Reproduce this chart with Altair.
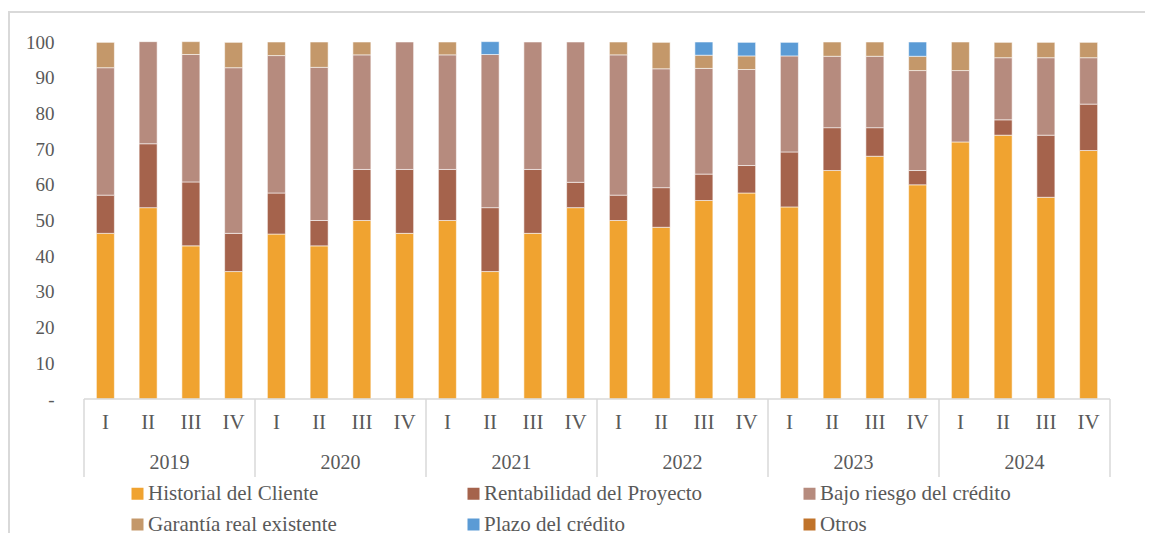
import altair as alt
import pandas as pd

years = ["2019", "2020", "2021", "2022", "2023", "2024"]
quarters = ["I", "II", "III", "IV"]
series = ["Historial del Cliente", "Rentabilidad del Proyecto", "Bajo riesgo del crédito",
          "Garantía real existente", "Plazo del crédito", "Otros"]
colors = ["#F0A330", "#A5634C", "#B68B7E", "#C4986A", "#5B9BD5", "#C0732A"]

historial = [46.4, 53.6, 42.9, 35.7, 46.2, 42.9, 50.0, 46.4, 50.0, 35.7, 46.4, 53.6,
             50.0, 48.1, 55.6, 57.7, 53.8, 64.0, 68.0, 60.0, 72.0, 73.9, 56.5, 69.6]
rentabilidad = [10.7, 17.9, 17.9, 10.7, 11.5, 7.1, 14.3, 17.9, 14.3, 17.9, 17.9, 7.1,
                7.1, 11.1, 7.4, 7.7, 15.4, 12.0, 8.0, 4.0, 0.0, 4.3, 17.4, 13.0]
bajo_riesgo = [35.7, 28.6, 35.7, 46.4, 38.5, 42.9, 32.1, 35.7, 32.1, 42.9, 35.7, 39.3,
               39.3, 33.3, 29.6, 26.9, 26.9, 20.0, 20.0, 28.0, 20.0, 17.4, 21.7, 13.0]
garantia = [7.1, 0.0, 3.6, 7.1, 3.8, 7.1, 3.6, 0.0, 3.6, 0.0, 0.0, 0.0,
            3.6, 7.4, 3.7, 3.8, 0.0, 4.0, 4.0, 4.0, 8.0, 4.3, 4.3, 4.3]
plazo = [0.0, 0.0, 0.0, 0.0, 0.0, 0.0, 0.0, 0.0, 0.0, 3.6, 0.0, 0.0,
         0.0, 0.0, 3.7, 3.8, 3.8, 0.0, 0.0, 4.0, 0.0, 0.0, 0.0, 0.0]
otros = [0.0] * 24

y_ticks = [0, 10, 20, 30, 40, 50, 60, 70, 80, 90, 100]

FONT = "Liberation Serif"
TXT = "#595959"
GRID = "#d9d9d9"
W, H = 1036, 357

values = [historial, rentabilidad, bajo_riesgo, garantia, plazo, otros]
rows = []
for k, (name, vals) in enumerate(zip(series, values)):
    for i, v in enumerate(vals):
        if v > 0:
            rows.append({"pos": i + 0.5, "serie": name, "k": k, "valor": v,
                         "periodo": f"{quarters[i % 4]} {years[i // 4]}"})
df = pd.DataFrame(rows)

xscale = alt.Scale(domain=[0, 24], nice=False, zero=False)

bars = alt.Chart(df).mark_bar(size=18, stroke="white", strokeWidth=1, strokeOpacity=0.55).encode(
    x=alt.X("pos:Q", scale=xscale, axis=None),
    y=alt.Y("valor:Q", stack="zero", scale=alt.Scale(domain=[0, 100], nice=False),
            axis=alt.Axis(values=y_ticks, grid=False, domain=False, ticks=False,
                          labelFont=FONT, labelFontSize=19, labelColor=TXT, labelPadding=25,
                          labelExpr="datum.value == 0 ? '-' : datum.label", title=None)),
    color=alt.Color("serie:N", scale=alt.Scale(domain=series, range=colors),
                    legend=alt.Legend(orient="none", legendX=48, legendY=441, columns=3,
                                      direction="horizontal",
                                      gridAlign="all", columnPadding=96, rowPadding=9,
                                      symbolType="square", symbolSize=144, symbolStrokeWidth=0,
                                      symbolOpacity=1, labelFont=FONT, labelFontSize=21,
                                      labelColor=TXT, labelOffset=0, title=None, labelLimit=400)),
    order=alt.Order("k:Q", sort="ascending"),
    tooltip=["periodo:N", "serie:N", "valor:Q"],
)

qdf = pd.DataFrame({"pos": [i + 0.5 for i in range(24)],
                    "q": [quarters[i % 4] for i in range(24)]})
qlabels = alt.Chart(qdf).mark_text(font=FONT, fontSize=21, color=TXT, baseline="middle").encode(
    x=alt.X("pos:Q", scale=xscale, axis=None), y=alt.value(H + 24), text="q:N")

ydf = pd.DataFrame({"pos": [4 * j + 2 for j in range(len(years))], "year": years})
ylabels = alt.Chart(ydf).mark_text(font=FONT, fontSize=20, color=TXT, baseline="middle").encode(
    x=alt.X("pos:Q", scale=xscale, axis=None), y=alt.value(H + 64), text="year:N")

sdf = pd.DataFrame({"pos": [4 * j for j in range(len(years) + 1)]})
seps = alt.Chart(sdf).mark_rule(color=GRID, strokeWidth=1.5).encode(
    x=alt.X("pos:Q", scale=xscale, axis=None), y=alt.value(H), y2=alt.value(H + 78))

bdf = pd.DataFrame({"a": [0], "b": [24]})
baseline = alt.Chart(bdf).mark_rule(color=GRID, strokeWidth=1.5).encode(
    x=alt.X("a:Q", scale=xscale, axis=None), x2="b:Q", y=alt.value(H))

fdf = pd.DataFrame({"a": [0]})
frame = alt.Chart(fdf).mark_rect(fillOpacity=0, stroke=GRID, strokeWidth=2).encode(
    x=alt.value(-70), x2=alt.value(W + 200), y=alt.value(-30), y2=alt.value(H + 300))

chart = alt.layer(frame, bars, baseline, seps, qlabels, ylabels).properties(
    width=W, height=H,
    padding={"left": 71, "top": 34, "right": 30, "bottom": 142},
    autosize=alt.AutoSizeParams(type="none"),
).configure(font=FONT).configure_view(stroke=None).configure_legend(
    labelFont=FONT).configure_axis(labelFont=FONT)

chart.save("out.html", embed_options={"renderer": "svg", "actions": False})
